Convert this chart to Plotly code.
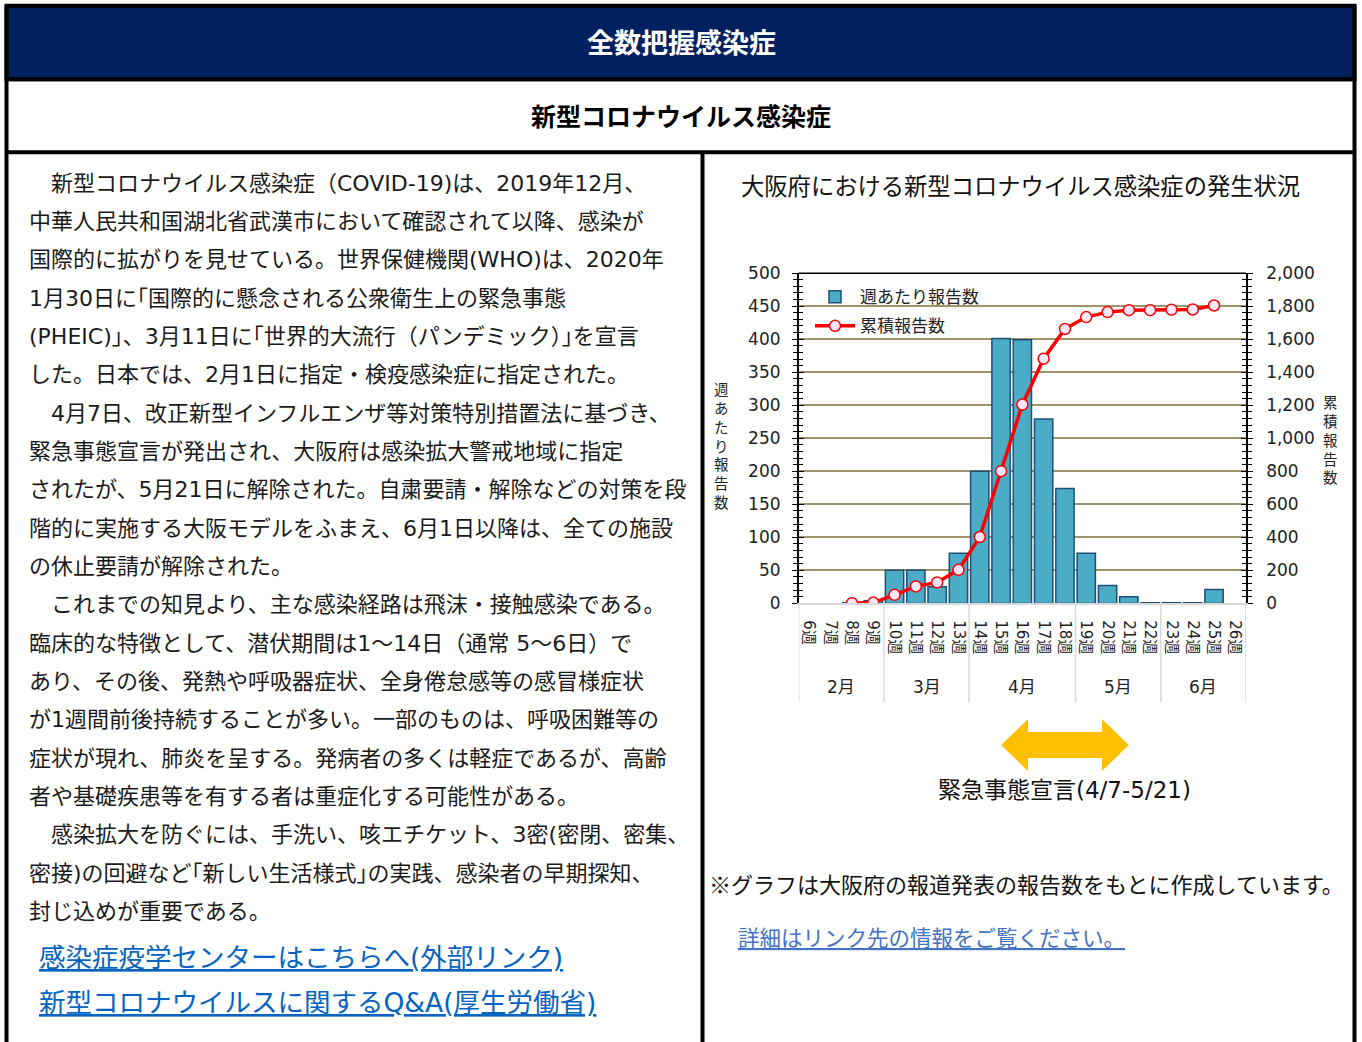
import plotly.graph_objects as go

W, H = 1362, 1042
# the captured picture shows the page slightly compressed vertically; map target pixels to page pixels
VS, VO = 0.981, 10.8
def fx(x): return x / W
def fy(y): return 1 - ((y - VO) / VS) / H

# ---------------- data ----------------
weeks = ["6週", "7週", "8週", "9週", "10週", "11週", "12週", "13週", "14週", "15週", "16週",
         "17週", "18週", "19週", "20週", "21週", "22週", "23週", "24週", "25週", "26週"]
months = ["2月"] * 4 + ["3月"] * 4 + ["4月"] * 5 + ["5月"] * 4 + ["6月"] * 4
weekly = [None, None, 1, 4, 50, 50, 25, 76, 200, 401, 399, 279, 174, 76, 27, 10, 1, 1, 1, 21, None]
cumulative = [None, None, 1, 5, 52, 103, 127, 203, 402, 801, 1204, 1482, 1662, 1734, 1764, 1776,
              1776, 1779, 1780, 1804, None]
left_ticks = list(range(0, 501, 50))
right_ticks = list(range(0, 2001, 200))
emergency_weeks = ("15週", "21週")  # 4/7 - 5/21

header = "全数把握感染症"
subheader = "新型コロナウイルス感染症"
chart_title = "大阪府における新型コロナウイルス感染症の発生状況"
left_title = "週あたり報告数"
right_title = "累積報告数"
emergency_text = "緊急事態宣言(4/7-5/21)"
note_text = "※グラフは大阪府の報道発表の報告数をもとに作成しています。"
detail_link = "詳細はリンク先の情報をご覧ください。"
body_lines = [
    "　新型コロナウイルス感染症（COVID-19)は、2019年12月、",
    "中華人民共和国湖北省武漢市において確認されて以降、感染が",
    "国際的に拡がりを見せている。世界保健機関(WHO)は、2020年",
    "1月30日に｢国際的に懸念される公衆衛生上の緊急事態",
    "(PHEIC)｣、3月11日に｢世界的大流行（パンデミック）｣を宣言",
    "した。日本では、2月1日に指定・検疫感染症に指定された。",
    "　4月7日、改正新型インフルエンザ等対策特別措置法に基づき、",
    "緊急事態宣言が発出され、大阪府は感染拡大警戒地域に指定",
    "されたが、5月21日に解除された。自粛要請・解除などの対策を段",
    "階的に実施する大阪モデルをふまえ、6月1日以降は、全ての施設",
    "の休止要請が解除された。",
    "　これまでの知見より、主な感染経路は飛沫・接触感染である。",
    "臨床的な特徴として、潜伏期間は1～14日（通常 5～6日）で",
    "あり、その後、発熱や呼吸器症状、全身倦怠感等の感冒様症状",
    "が1週間前後持続することが多い。一部のものは、呼吸困難等の",
    "症状が現れ、肺炎を呈する。発病者の多くは軽症であるが、高齢",
    "者や基礎疾患等を有する者は重症化する可能性がある。",
    "　感染拡大を防ぐには、手洗い、咳エチケット、3密(密閉、密集、",
    "密接)の回避など｢新しい生活様式｣の実践、感染者の早期探知、",
    "封じ込めが重要である。",
]
links = ["感染症疫学センターはこちらへ(外部リンク)", "新型コロナウイルスに関するQ&A(厚生労働省)"]

# ---------------- style ----------------
JP = "Noto Sans CJK JP"
MIX = "DejaVu Sans, Noto Sans CJK JP"   # Verdana-like Latin, CJK fallback
NUM = "DejaVu Sans"
NAVY = "#002060"
GRID = "#A0956A"
BAR = "#4BACC6"
BAR_EDGE = "#1F4E79"
DIV = "#D9D9D9"
PLOT_L, PLOT_R, PLOT_T, PLOT_B = 798.7, 1246.0, 274.0, 604.3

fig = go.Figure()
fig.add_trace(go.Bar(
    x=weeks, y=weekly, name="週あたり報告数",
    marker=dict(color=BAR, line=dict(color=BAR_EDGE, width=1.5)),
    legendgroup="a",
))
fig.add_trace(go.Scatter(
    x=weeks, y=cumulative, name="累積報告数", yaxis="y2", mode="lines+markers",
    line=dict(color="#FF0000", width=3.5),
    marker=dict(symbol="circle", size=11, color="#FFE6FA", line=dict(color="#FF0000", width=1.5)),
    legendgroup="b",
))
# helper traces so that crossing (inside) ticks are drawn
fig.add_trace(go.Scatter(x=weeks, y=[None] * len(weeks), yaxis="y3", showlegend=False, hoverinfo="skip"))
fig.add_trace(go.Scatter(x=weeks, y=[None] * len(weeks), yaxis="y4", showlegend=False, hoverinfo="skip"))

dom_x = [fx(PLOT_L), fx(PLOT_R)]
dom_y = [fy(PLOT_B), fy(PLOT_T)]

fig.update_layout(
    width=W, height=H, margin=dict(l=0, r=0, t=0, b=0),
    paper_bgcolor="white", plot_bgcolor="white",
    font=dict(family=JP, color="#000000"),
    bargap=0.14,
    showlegend=True,
    legend=dict(x=fx(810), y=fy(280), xanchor="left", yanchor="top",
                bgcolor="rgba(0,0,0,0)", font=dict(family=JP, size=17, color="#222"),
                tracegroupgap=4, itemwidth=40),
    xaxis=dict(type="category", categoryorder="array", categoryarray=weeks,
               range=[-0.5, len(weeks) - 0.5], domain=dom_x, anchor="y",
               showline=True, linecolor=DIV, linewidth=1.5,
               ticks="", tickangle=90, showgrid=False, ticklabelstandoff=12,
               tickfont=dict(family=MIX, size=15, color="#222")),
    yaxis=dict(domain=dom_y, range=[0, 500], tickvals=left_ticks, side="left",
               showline=True, linecolor="#000", linewidth=1.5,
               ticks="outside", ticklen=5, tickwidth=1.2, tickcolor="#000",
               minor=dict(dtick=10, ticks="outside", ticklen=4, tickwidth=1, tickcolor="#000"),
               showgrid=True, gridcolor=GRID, gridwidth=1.5, zeroline=False,
               ticklabelstandoff=8,
               tickfont=dict(family=NUM, size=17, color="#222")),
    yaxis2=dict(overlaying="y", side="right", range=[0, 2000], tickvals=right_ticks,
                tickformat=",", showline=True, linecolor="#000", linewidth=1.5,
                ticks="outside", ticklen=5, tickwidth=1.2, tickcolor="#000",
                minor=dict(dtick=40, ticks="outside", ticklen=4, tickwidth=1, tickcolor="#000"),
                showgrid=False, zeroline=False, ticklabelstandoff=10,
                tickfont=dict(family=NUM, size=17, color="#222")),
    yaxis3=dict(overlaying="y", side="left", range=[0, 500], tickvals=left_ticks,
                showticklabels=False, showgrid=False, zeroline=False, showline=False,
                ticks="inside", ticklen=5, tickwidth=1.2, tickcolor="#000",
                minor=dict(dtick=10, ticks="inside", ticklen=4, tickwidth=1, tickcolor="#000")),
    yaxis4=dict(overlaying="y", side="right", range=[0, 2000], tickvals=right_ticks,
                showticklabels=False, showgrid=False, zeroline=False, showline=False,
                ticks="inside", ticklen=5, tickwidth=1.2, tickcolor="#000",
                minor=dict(dtick=40, ticks="inside", ticklen=4, tickwidth=1, tickcolor="#000")),
)

shapes = []
# page frame
shapes.append(dict(type="rect", xref="paper", yref="paper", x0=fx(6.5), x1=fx(1354.5), y0=fy(80), y1=fy(6.5),
                   fillcolor=NAVY, line=dict(color="#000", width=4), layer="below"))
for (x0, y0, x1, y1) in [(6.5, 6.5, 6.5, 1060), (1354.5, 6.5, 1354.5, 1060),
                         (6.5, 80, 1354.5, 80), (6.5, 153, 1354.5, 153), (702.5, 153, 702.5, 1060)]:
    shapes.append(dict(type="line", xref="paper", yref="paper", x0=fx(x0), x1=fx(x1), y0=fy(y0), y1=fy(y1),
                       line=dict(color="#000", width=4)))
# plot frame top
shapes.append(dict(type="line", xref="x domain", yref="y domain", x0=0, x1=1, y0=1, y1=1,
                   line=dict(color="#000", width=1.5)))

# month groups: divider lines at the group boundaries and centred month labels
ann = []
month_order = []
for m in months:
    if m not in month_order:
        month_order.append(m)
bounds = [-0.5]
for m in month_order:
    idx = [i for i, mm in enumerate(months) if mm == m]
    bounds.append(idx[-1] + 0.5)
    ann.append(dict(xref="x", yref="paper", x=(idx[0] + idx[-1]) / 2, y=fy(688), text=m, showarrow=False,
                    xanchor="center", yanchor="middle", font=dict(family=MIX, size=17, color="#222")))
for b in bounds:
    shapes.append(dict(type="line", xref="x", yref="paper", x0=b, x1=b, y0=fy(PLOT_B), y1=fy(703),
                       line=dict(color=DIV, width=1.5)))

# emergency arrow, positioned from the category indices of the declaration weeks
step = (PLOT_R - PLOT_L) / len(weeks)
xa = PLOT_L + (weeks.index(emergency_weeks[0]) + 0.5) * step
xb = PLOT_L + (weeks.index(emergency_weeks[1]) + 0.5) * step
yc, head, half_head, half_shaft = 746, 27, 26, 13
pts = [(xa, yc), (xa + head, yc - half_head), (xa + head, yc - half_shaft), (xb - head, yc - half_shaft),
       (xb - head, yc - half_head), (xb, yc), (xb - head, yc + half_head), (xb - head, yc + half_shaft),
       (xa + head, yc + half_shaft), (xa + head, yc + half_head)]
path = "M " + " L ".join(f"{fx(px):.5f},{fy(py):.5f}" for px, py in pts) + " Z"
shapes.append(dict(type="path", xref="paper", yref="paper", path=path,
                   fillcolor="#FFC000", line=dict(width=0)))
fig.update_layout(shapes=shapes)

def text(x, y, s, size, color="#000", anchor="left", bold=False, family=MIX):
    ann.append(dict(xref="paper", yref="paper", x=fx(x), y=fy(y), text=(f"<b>{s}</b>" if bold else s),
                    showarrow=False, xanchor=anchor, yanchor="middle",
                    font=dict(family=family, size=size, color=color)))

text(681, 42, header, 27, color="#FFFFFF", anchor="center", bold=True, family=JP)
text(681, 116, subheader, 25, anchor="center", bold=True, family=JP)
for i, line in enumerate(body_lines):
    text(27, 184 + 38.35 * i, line, 22, color="#1a1a1a")
text(37, 958, f"<u>{links[0]}</u>", 26.5, color="#0563C1")
text(37, 1003, f"<u>{links[1]}</u>", 26.5, color="#0563C1")

text(739, 186, chart_title, 23.3, color="#111", family=JP)
text(721, 446, "<br>".join(left_title), 14.5, color="#222", anchor="center", family=JP)
text(1330, 440, "<br>".join(right_title), 14.5, color="#222", anchor="center", family=JP)
text(1064, 791, emergency_text, 23, color="#111", anchor="center")
text(707, 884, note_text, 22, color="#111", family=JP)
text(736, 937, f"<u>{detail_link}</u>", 21.5, color="#4472C4", family=JP)
fig.update_layout(annotations=ann)

fig.write_html(
    "out.html",
    config={"displayModeBar": False},
    post_script="document.body.style.margin='0';document.documentElement.style.overflow='hidden';"
)
